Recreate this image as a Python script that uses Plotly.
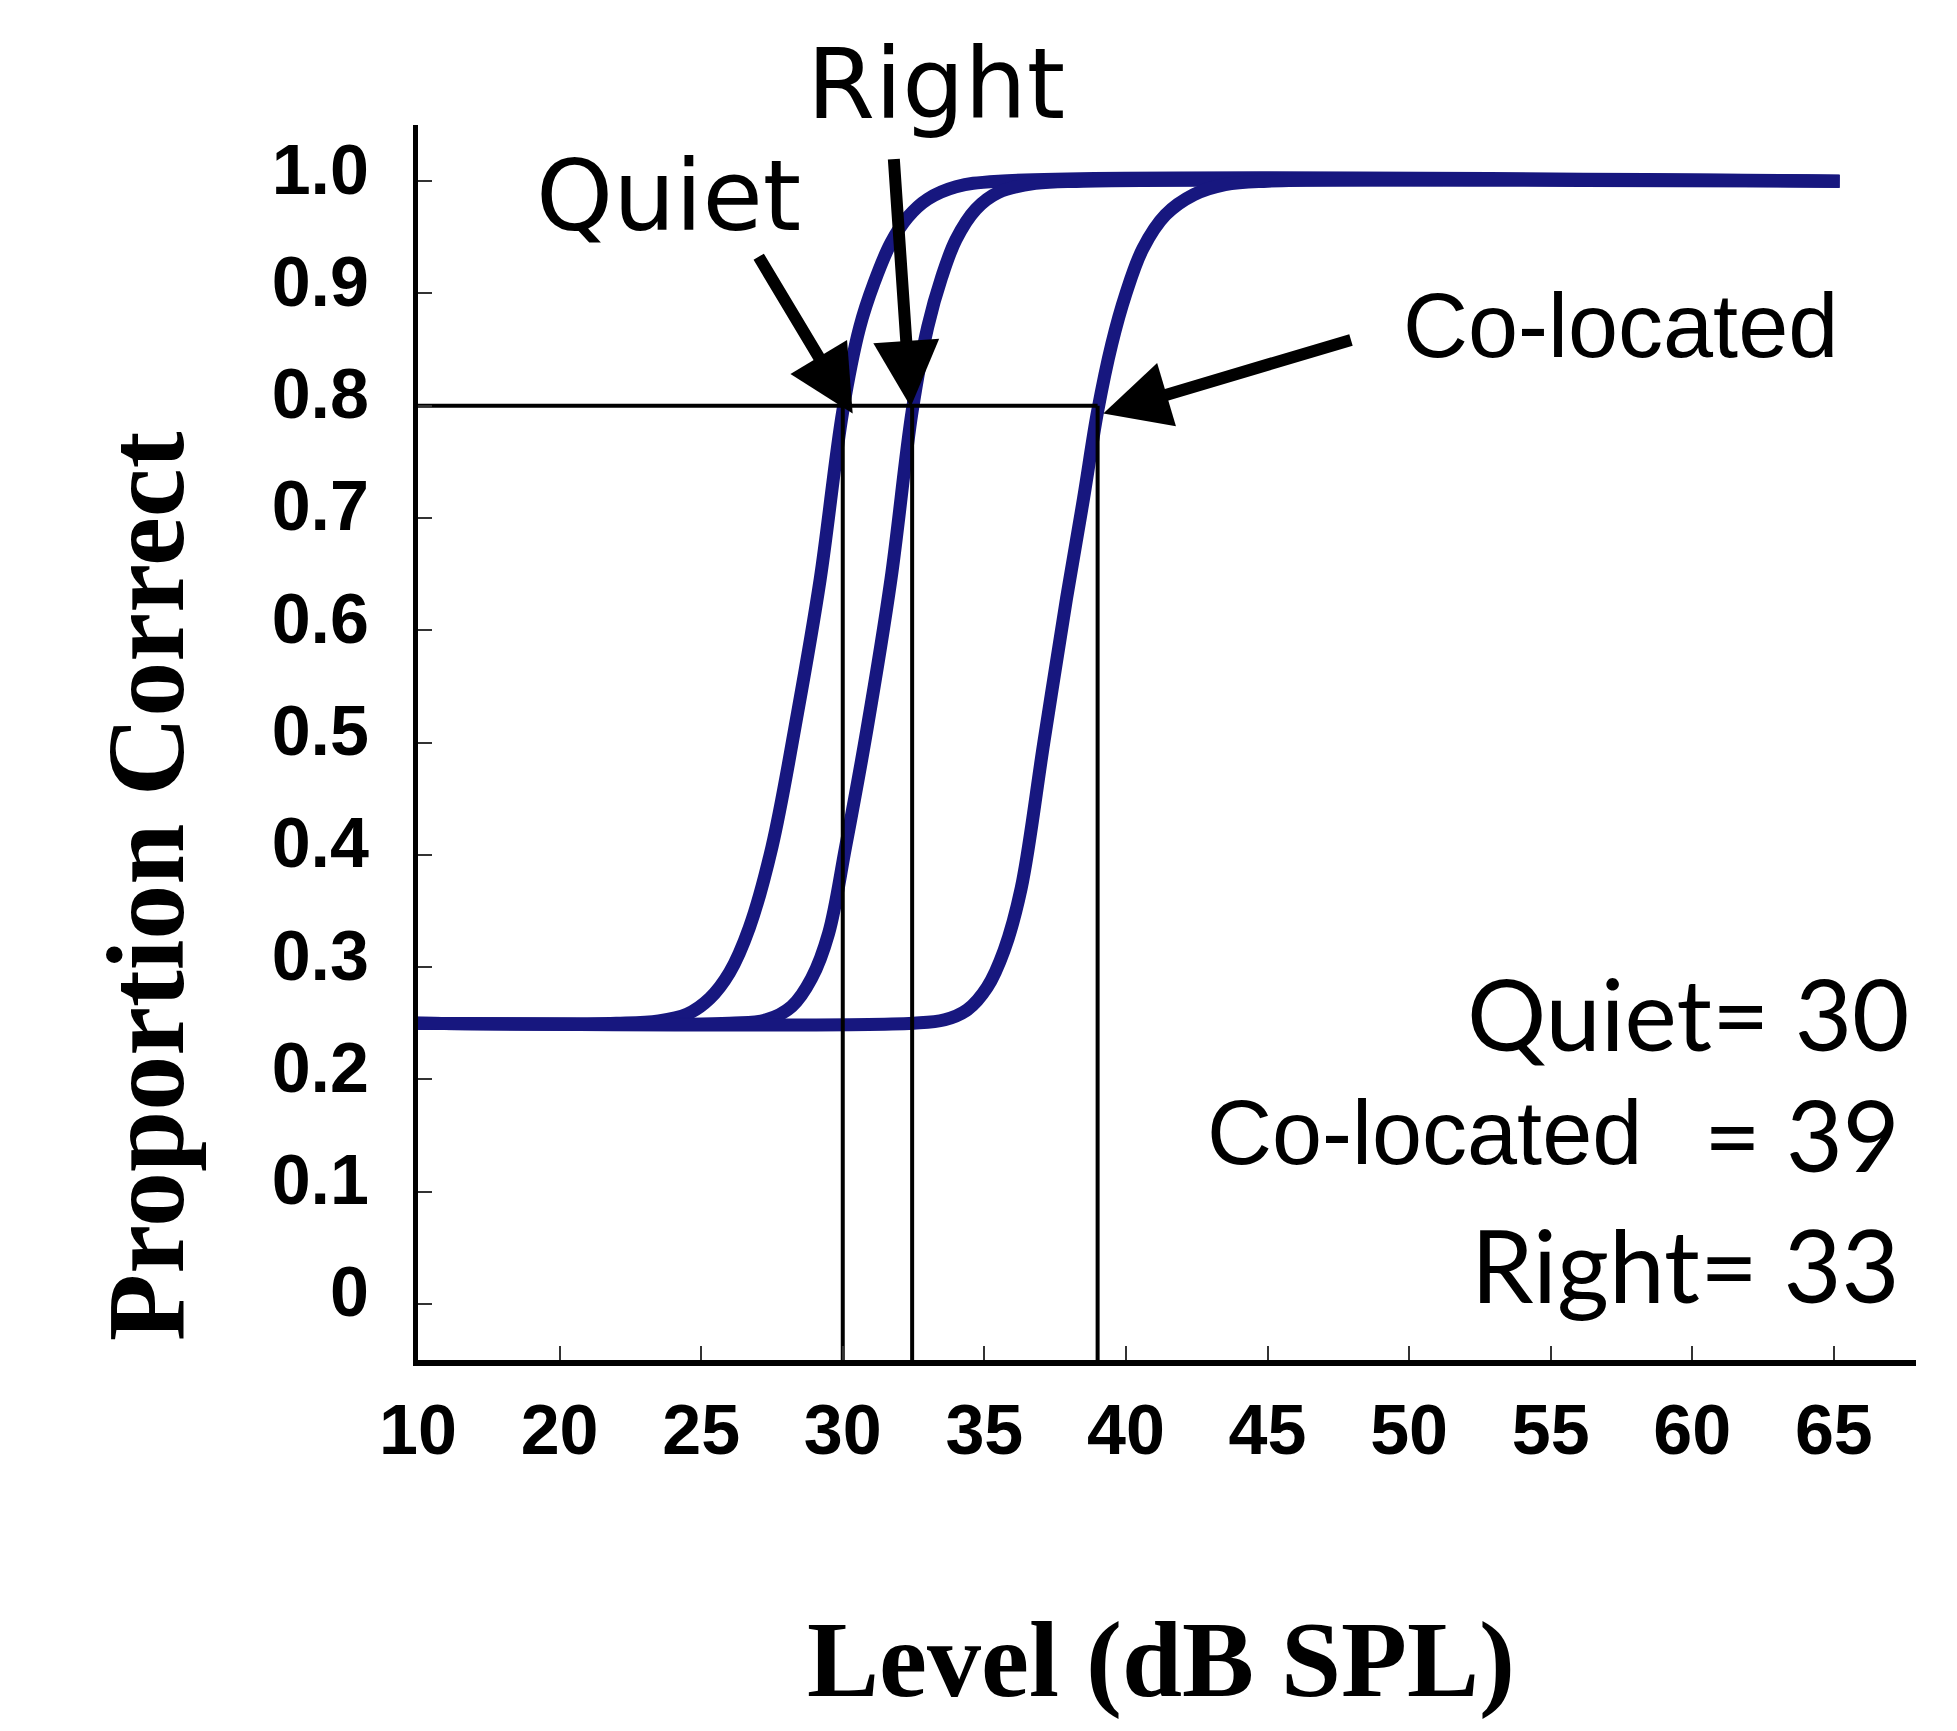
import plotly.graph_objects as go

# ---------------- data ----------------
x_tickvals = [15, 20, 25, 30, 35, 40, 45, 50, 55, 60, 65]
x_ticktext = ["10", "20", "25", "30", "35", "40", "45", "50", "55", "60", "65"]
y_tickvals = [0, 0.1, 0.2, 0.3, 0.4, 0.5, 0.6, 0.7, 0.8, 0.9, 1.0]
y_ticktext = ["0", "0.1", "0.2", "0.3", "0.4", "0.5", "0.6", "0.7", "0.8", "0.9", "1.0"]

quiet_x = [14.8, 22.0, 23.5, 24.5, 25.3, 26.0, 26.7, 27.5, 28.4, 29.2, 30.0, 30.6, 31.1, 31.7,
           32.3, 33.0, 34.0, 35.5, 65.2]
quiet_y = [0.25, 0.25, 0.252, 0.258, 0.272, 0.295, 0.335, 0.407, 0.526, 0.645, 0.795, 0.87, 0.909,
           0.945, 0.968, 0.984, 0.995, 1.0, 1.0]

right_x = [14.8, 26.0, 27.3, 28.2, 28.9, 29.5, 30.1, 30.85, 31.7, 32.45, 33.0, 33.5, 34.0, 34.7,
           35.5, 36.8, 38.5, 65.2]
right_y = [0.25, 0.25, 0.253, 0.265, 0.29, 0.33, 0.407, 0.511, 0.645, 0.795, 0.87, 0.915, 0.948,
           0.975, 0.99, 0.998, 1.0, 1.0]

coloc_x = [14.8, 32.5, 33.6, 34.4, 35.1, 35.7, 36.3, 37.1, 37.9, 38.5, 39.0, 39.5, 40.0, 40.6,
           41.4, 42.4, 43.5, 45.0, 65.2]
coloc_y = [0.25, 0.25, 0.253, 0.262, 0.282, 0.315, 0.37, 0.5, 0.628, 0.717, 0.795, 0.855, 0.9,
           0.94, 0.97, 0.988, 0.997, 1.0, 1.0]

criterion = 0.8
threshold_names = ["Quiet", "Right", "Co-located"]
threshold_x = [30.0, 32.45, 39.0]

# ---------------- figure ----------------
W, H = 1957, 1731
L, R, T, B = 418, 41, 125, 371
PW, PH = W - L - R, H - T - B
XR = [15, 67.9]
YR = [-0.05, 1.05]


def px_x(px):
    return (px - L) / PW


def px_y(py):
    return (H - B - py) / PH


NAVY = "#17177f"
fig = go.Figure()

for xs, ys in [(quiet_x, quiet_y), (right_x, right_y), (coloc_x, coloc_y)]:
    fig.add_trace(go.Scatter(x=xs, y=ys, mode="lines",
                             line=dict(color=NAVY, width=13, shape="spline", smoothing=1.0),
                             showlegend=False, hoverinfo="skip"))

# criterion line and vertical threshold drops
fig.add_trace(go.Scatter(x=[XR[0] - 1, max(threshold_x)], y=[criterion, criterion], mode="lines",
                         line=dict(color="black", width=4), showlegend=False, hoverinfo="skip"))
for tx in threshold_x:
    fig.add_trace(go.Scatter(x=[tx, tx], y=[YR[0], criterion], mode="lines",
                             line=dict(color="black", width=4), showlegend=False, hoverinfo="skip"))

SANS_B = dict(family="Liberation Sans, Arial", size=70, color="black", weight="bold")

fig.update_xaxes(range=XR, tickvals=x_tickvals, ticktext=x_ticktext, showgrid=False, zeroline=False,
                 showline=True, linecolor="black", linewidth=6, ticks="inside", ticklen=14,
                 tickwidth=2, tickcolor="#333333", tickfont=SANS_B, ticklabelstandoff=4,
                 automargin=False, fixedrange=True)
fig.update_yaxes(range=YR, tickvals=y_tickvals, ticktext=y_ticktext, showgrid=False, zeroline=False,
                 showline=True, linecolor="black", linewidth=5, ticks="inside", ticklen=14,
                 tickwidth=2, tickcolor="#333333", tickfont=SANS_B, ticklabelstandoff=30,
                 ticklabelshift=-12, automargin=False, fixedrange=True)

annotations = []
# arrows (head at the threshold point, tail in data coordinates)
arrows = [(30.35, 0.793, 27.0, 0.934), (32.4, 0.799, 31.8, 1.021), (39.2, 0.793, 48.0, 0.859)]
for hx, hy, tx_, ty_ in arrows:
    annotations.append(dict(x=hx, y=hy, ax=tx_, ay=ty_, xref="x", yref="y", axref="x", ayref="y",
                            text="", showarrow=True, arrowhead=2, arrowsize=1.1, arrowwidth=12,
                            arrowcolor="black", standoff=0, startstandoff=0))

GEO_TOP = "DejaVu Sans, sans-serif"
GEO = "Lato, Open Sans, sans-serif"
ARIAL = "Liberation Sans, Arial"
labels = [
    ("Quiet", GEO_TOP, 98, 668, 196, "center"),
    ("Right", GEO_TOP, 98, 936, 84, "center"),
    ("Co-located", ARIAL, 90, 1620, 326, "center"),
    ("Quiet= 30", GEO, 99, 1911, 1012, "right"),
    ("Co-located", ARIAL, 90, 1424, 1133, "center"),
    ("= 39", GEO, 98, 1902, 1134, "right"),
    ("Right= 33", GEO, 100, 1902, 1264, "right"),
]
for txt, fam, size, cx, cy, anchor in labels:
    annotations.append(dict(text=txt, x=px_x(cx), y=px_y(cy), xref="paper", yref="paper",
                            xanchor=anchor, yanchor="middle", showarrow=False,
                            font=dict(family=fam, size=size, color="black")))

SERIF_B = dict(family="Liberation Serif, Times New Roman", size=108, color="black", weight="bold")
annotations.append(dict(text="Proportion Correct", x=px_x(146), y=px_y(886), xref="paper", yref="paper",
                        textangle=-90, xanchor="center", yanchor="middle", showarrow=False,
                        font=dict(SERIF_B, size=110)))
annotations.append(dict(text="Level (dB SPL)", x=px_x(1161), y=px_y(1660), xref="paper", yref="paper",
                        xanchor="center", yanchor="middle", showarrow=False, font=SERIF_B))

fig.update_layout(width=W, height=H, margin=dict(l=L, r=R, t=T, b=B, autoexpand=False),
                  plot_bgcolor="white", paper_bgcolor="white", showlegend=False,
                  annotations=annotations)

fig.write_html("out.html", config={"displayModeBar": False})
